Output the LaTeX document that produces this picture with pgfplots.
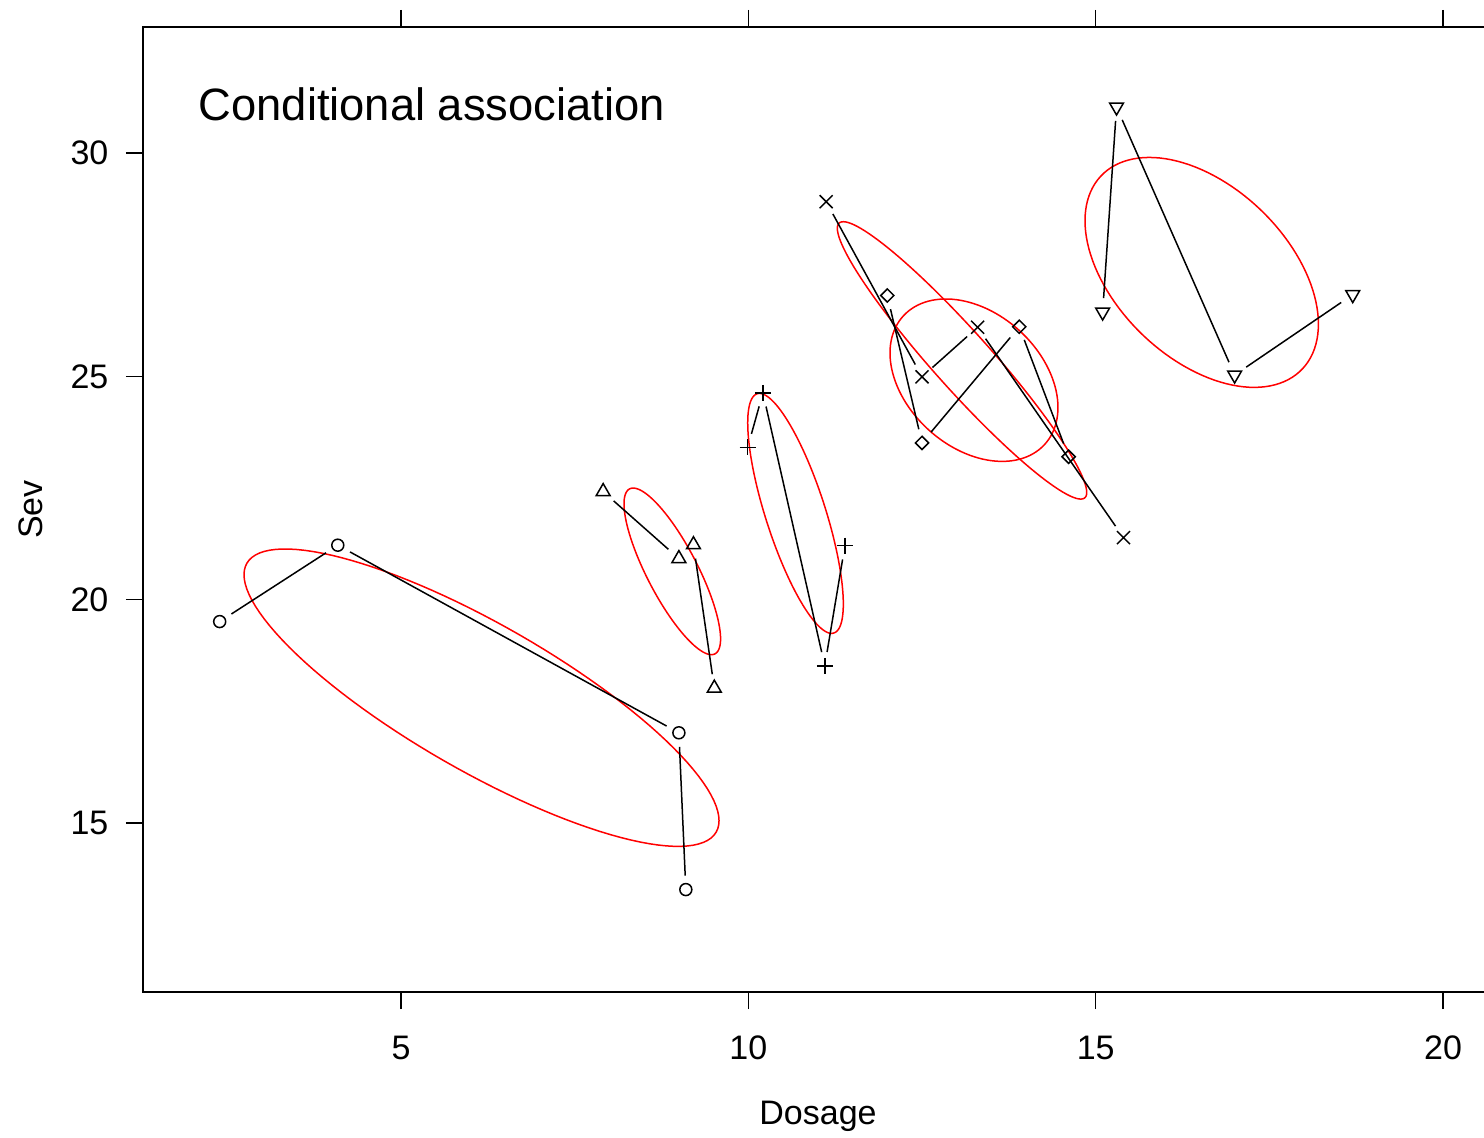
\documentclass[border=0pt]{standalone}
\usepackage{pgfplots}
\pgfplotsset{compat=1.18}
\usepackage{fontspec}
\setmainfont{Liberation Sans}
\begin{document}
\begin{tikzpicture}
\begin{axis}[
  scale only axis, width=405pt, height=289.5pt,
  xmin=1.286, xmax=20.719, ymin=11.217, ymax=32.821,
  xtick={5,10,15,20}, ytick={15,20,25,30},
  tick align=outside, ytick pos=left, xtick pos=both,
  major tick length=5.1pt,
  axis line style={line width=0.45pt},
  every tick/.style={black, line width=0.45pt},
  tick label style={font=\fontsize{10.2}{12}\selectfont},
  /pgf/number format/assume math mode=true,
  xticklabel style={anchor=base, inner sep=0pt, yshift=-15pt},
  yticklabel style={anchor=east, inner sep=0pt, xshift=-5.1pt},
  xlabel={Dosage}, ylabel={Sev},
  label style={font=\fontsize{10.2}{12}\selectfont},
  xlabel style={at={([yshift=-39.6pt]axis description cs:0.5,0)}, anchor=base, inner sep=0pt},
  ylabel style={at={([xshift=-30pt]axis description cs:0,0.5)}, anchor=base, inner sep=0pt},
]
% ellipses
\addplot[red, line width=0.45pt, domain=0:360, samples=121, variable=\t] ({6.159+3.419*cos(\t)}, {17.806+3.329*cos(\t-145.8)});
\addplot[red, line width=0.45pt, domain=0:360, samples=121, variable=\t] ({8.905+0.695*cos(\t)}, {20.634+1.865*cos(\t-144.1)});
\addplot[red, line width=0.45pt, domain=0:360, samples=121, variable=\t] ({10.679+0.688*cos(\t)}, {21.932+2.686*cos(\t-139.0)});
\addplot[red, line width=0.45pt, domain=0:360, samples=121, variable=\t] ({13.076+1.795*cos(\t)}, {25.357+3.105*cos(\t-162.2)});
\addplot[red, line width=0.45pt, domain=0:360, samples=121, variable=\t] ({13.248+1.209*cos(\t)}, {24.914+1.818*cos(\t-109.6)});
\addplot[red, line width=0.45pt, domain=0:360, samples=121, variable=\t] ({16.526+1.680*cos(\t)}, {27.327+2.574*cos(\t-116.7)});
% connecting segments
\pgfplotsset{seg/.style={black, line width=0.45pt, shorten <=4.2pt, shorten >=4.2pt, mark=none}}
\addplot[seg] coordinates {(2.39,19.51) (4.09,21.22)};
\addplot[seg] coordinates {(4.09,21.22) (9.00,17.02)};
\addplot[seg] coordinates {(9.00,17.02) (9.10,13.51)};
\addplot[seg] coordinates {(7.91,22.42) (9.00,20.92)};
\addplot[seg] coordinates {(9.21,21.23) (9.51,18.02)};
\addplot[seg] coordinates {(9.99,23.41) (10.21,24.63)};
\addplot[seg] coordinates {(10.21,24.63) (11.10,18.52)};
\addplot[seg] coordinates {(11.10,18.52) (11.39,21.21)};
\addplot[seg] coordinates {(11.12,28.91) (12.50,24.99)};
\addplot[seg] coordinates {(12.50,24.99) (13.30,26.10)};
\addplot[seg] coordinates {(13.30,26.10) (15.40,21.39)};
\addplot[seg] coordinates {(12.00,26.81) (12.50,23.51)};
\addplot[seg] coordinates {(12.50,23.51) (13.90,26.11)};
\addplot[seg] coordinates {(13.90,26.11) (14.61,23.20)};
\addplot[seg] coordinates {(15.10,26.44) (15.30,31.03)};
\addplot[seg] coordinates {(15.30,31.03) (17.00,25.03)};
\addplot[seg] coordinates {(17.00,25.03) (18.70,26.83)};
% markers
\addplot[only marks, mark=o, mark size=1.8pt, mark options={black, line width=0.45pt}] coordinates {(2.39,19.51) (4.09,21.22) (9.00,17.02) (9.10,13.51)};
\addplot[only marks, mark=triangle, mark size=2.4pt, mark options={black, line width=0.45pt}] coordinates {(7.91,22.42) (9.00,20.92) (9.21,21.23) (9.51,18.02)};
\addplot[only marks, mark=+, mark size=2.4pt, mark options={black, line width=0.45pt}] coordinates {(9.99,23.41) (10.21,24.63) (11.10,18.52) (11.39,21.21)};
\addplot[only marks, mark=x, mark size=2.76pt, mark options={black, line width=0.45pt}] coordinates {(11.12,28.91) (12.50,24.99) (13.30,26.10) (15.40,21.39)};
\addplot[only marks, mark=square, mark size=1.4pt, mark options={black, line width=0.45pt, rotate=45}] coordinates {(12.00,26.81) (12.50,23.51) (13.90,26.11) (14.61,23.20)};
\addplot[only marks, mark=triangle, mark size=2.4pt, mark options={black, line width=0.45pt, rotate=180}] coordinates {(15.10,26.44) (15.30,31.03) (17.00,25.03) (18.70,26.83)};
\node[anchor=base west, inner sep=0pt, font=\fontsize{13.6}{16}\selectfont, xshift=16.5pt, yshift=-28.1pt] at (rel axis cs:0,1) {Conditional association};
\end{axis}
\pgfresetboundingbox
\useasboundingbox (-42.9pt,-43.5pt) rectangle (402.3pt,297.6pt);
\end{tikzpicture}
\end{document}
